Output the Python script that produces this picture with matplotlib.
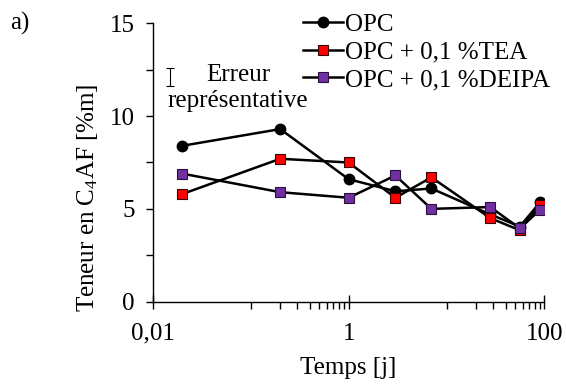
import numpy as np
import matplotlib.pyplot as plt
from matplotlib.ticker import FixedLocator, NullFormatter

plt.rcParams['font.family'] = ['Liberation Serif', 'DejaVu Serif']
plt.rcParams['mathtext.fontset'] = 'custom'
plt.rcParams['mathtext.rm'] = 'Liberation Serif'
plt.rcParams['mathtext.it'] = 'Liberation Serif:italic'

# Données (temps en jours, teneur en %m)
temps = [0.02, 0.2, 1, 3, 7, 28, 56, 90]
opc = [8.4, 9.3, 6.6, 5.95, 6.1, 4.7, 4.05, 5.35]
opc_tea = [5.8, 7.7, 7.5, 5.6, 6.7, 4.5, 3.85, 5.2]
opc_deipa = [6.9, 5.9, 5.6, 6.8, 5.0, 5.1, 3.95, 4.95]

# Erreur représentative
err_x = [0.015]
err_y = [12.1]
err = [0.5]

fs = 18
fig = plt.figure(figsize=(5.66, 3.85), dpi=100)
ax = fig.add_axes([0.270, 0.2164, 0.692, 0.7231])

ax.plot(temps, opc, '-o', color='black', lw=1.8, ms=7.5, label='OPC')
ax.plot(temps, opc_tea, '-s', color='black', mfc='#ff0000', mec='#3a0000', mew=0.8,
        lw=1.8, ms=7.2, label='OPC + 0,1 %TEA')
ax.plot(temps, opc_deipa, '-s', color='black', mfc='#7030a0', mec='#2a1040', mew=0.8,
        lw=1.8, ms=7.2, label='OPC + 0,1 %DEIPA')

ax.errorbar(err_x, err_y, yerr=err, fmt='none', ecolor='black', elinewidth=0.8,
            capsize=3, capthick=0.8)

ax.set_xscale('log')
ax.set_xlim(0.01, 100)
ax.set_ylim(0, 15)
ax.xaxis.set_major_locator(FixedLocator([0.01, 1, 100]))
ax.set_xticklabels(['0,01', '1', '100'])
ax.xaxis.set_minor_locator(FixedLocator([0.1 * k for k in range(1, 10)] + [10 * k for k in range(1, 10)]))
ax.xaxis.set_minor_formatter(NullFormatter())
ax.set_yticks([0, 5, 10, 15])
ax.yaxis.set_minor_locator(FixedLocator([2.5, 7.5, 12.5]))

ax.tick_params(axis='x', which='major', direction='inout', length=10, width=1, labelsize=fs, pad=10)
ax.tick_params(axis='x', which='minor', direction='out', length=5, width=1)
ax.tick_params(axis='y', which='both', direction='out', length=5, width=1, labelsize=fs, pad=8)

for s in ['top', 'right']:
    ax.spines[s].set_visible(False)
for s in ['left', 'bottom']:
    ax.spines[s].set_linewidth(1)

ax.set_xlabel('Temps [j]', fontsize=fs, labelpad=9)
fig.text(0.154, 0.486, 'Teneur en C$_4$AF [%m]', rotation=90, fontsize=fs,
         ha='center', va='center')

ax.text(0.074, 11.5, 'Erreur\nreprésentative', fontsize=fs, ha='center', va='center',
        linespacing=1.25)

fig.text(0.018, 0.938, 'a)', fontsize=fs, ha='left', va='center')

ax.legend(loc='upper left', bbox_to_anchor=(0.535, 0.965), bbox_transform=fig.transFigure,
          frameon=False, fontsize=fs, handlelength=1.6, handletextpad=0.1,
          labelspacing=0.2, borderaxespad=0, borderpad=0)

fig.savefig('out.png', dpi=100)
